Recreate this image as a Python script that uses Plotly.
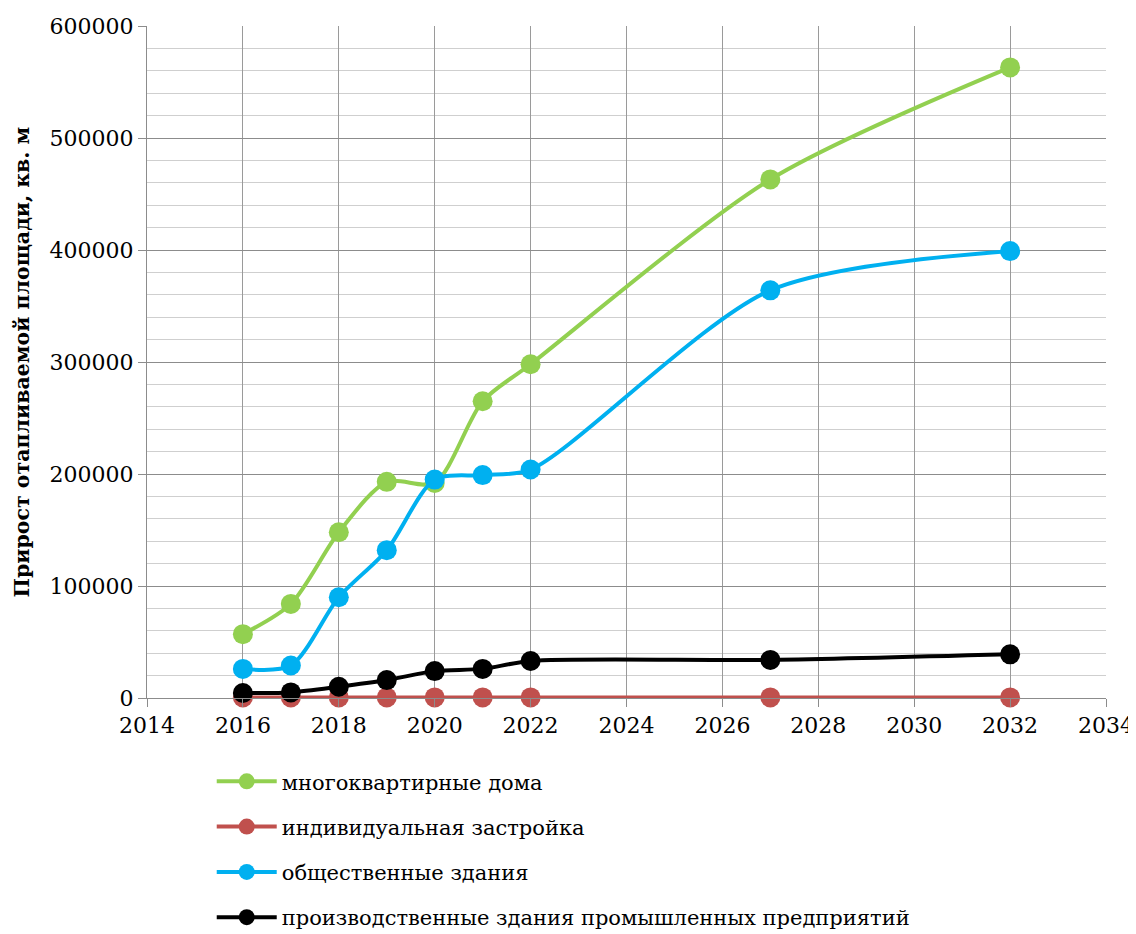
import plotly.graph_objects as go

years = [2016, 2017, 2018, 2019, 2020, 2021, 2022, 2027, 2032]
multi_apartment = [57000, 84000, 148000, 193000, 192000, 265000, 298000, 463000, 563000]
individual = [500, 500, 500, 500, 500, 500, 500, 500, 500]
public = [26000, 29000, 90000, 132000, 195000, 199000, 204000, 364000, 399000]
industrial = [4500, 5000, 10000, 16000, 24000, 26000, 33000, 34000, 39000]

names = ["многоквартирные дома", "индивидуальная застройка",
         "общественные здания", "производственные здания промышленных предприятий"]
colors = ["#92D050", "#C0504D", "#00B0F0", "#000000"]
series = [multi_apartment, individual, public, industrial]

fig = go.Figure()
for i, (nm, col, vals) in enumerate(zip(names, colors, series)):
    fig.add_trace(go.Scatter(
        x=years, y=vals, name=nm, mode="lines+markers",
        line=dict(color=col, width=4, shape="spline", smoothing=0.8),
        marker=dict(color=col, size=20),
        cliponaxis=False, legendgroup=str(i),
    ))

ff = "DejaVu Serif"
fig.update_layout(
    width=1128, height=926,
    paper_bgcolor="white", plot_bgcolor="white",
    margin=dict(l=139, r=30, t=18, b=236, autoexpand=False),
    font=dict(family=ff, size=21, color="black"),
    showlegend=True,
    legend=dict(orientation="v", x=0.0675, xanchor="left", y=-0.094, yanchor="top",
                font=dict(family=ff, size=21, color="black"),
                tracegroupgap=15, itemwidth=60),
    xaxis=dict(range=[2014, 2034], dtick=2, tick0=2014, showgrid=True,
               gridcolor="#9a9a9a", gridwidth=1, showline=True, linecolor="#8c8c8c",
               linewidth=1, ticks="outside", ticklen=8, tickcolor="#8c8c8c",
               zeroline=False, automargin=False,
               tickfont=dict(family=ff, size=22)),
    yaxis=dict(range=[0, 600000], dtick=100000, showgrid=True,
               gridcolor="#8c8c8c", gridwidth=1, showline=True, linecolor="#8c8c8c",
               linewidth=1, ticks="outside", ticklen=8, tickcolor="#8c8c8c",
               zeroline=False, tickformat="d", automargin=False,
               minor=dict(dtick=20000, showgrid=True, gridcolor="#cfcfcf", gridwidth=1),
               title=dict(text="<b>Прирост отапливаемой площади, кв. м</b>",
                          font=dict(family=ff, size=20.5), standoff=14),
               tickfont=dict(family=ff, size=22)),
)

fig.write_html("out.html")
